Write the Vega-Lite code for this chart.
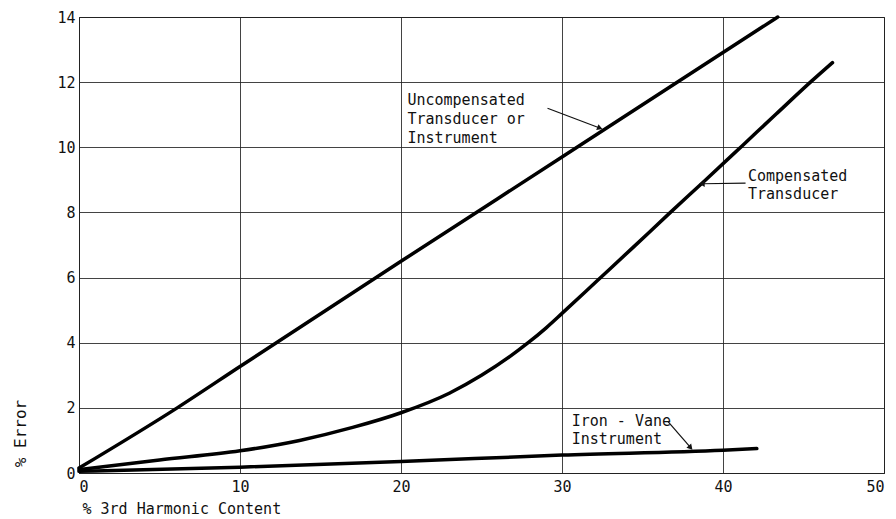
{
  "$schema": "https://vega.github.io/schema/vega-lite/v6.json",
  "width": 805,
  "height": 456,
  "autosize": "none",
  "padding": {"left": 79, "top": 17, "right": 12, "bottom": 46},
  "background": "white",
  "config": {
    "view": {"stroke": "#222", "strokeWidth": 1},
    "font": "DejaVu Sans Mono",
    "axis": {"grid": true, "gridColor": "#222", "gridOpacity": 0.85, "gridWidth": 1, "domainColor": "#222", "ticks": false, "labelColor": "#111", "titleColor": "#111", "labelFont": "DejaVu Sans Mono", "titleFont": "DejaVu Sans Mono", "titleFontWeight": "normal"}
  },
  "datasets": {
    "curves": [
      {"series": "Uncompensated", "x": 0, "y": 0.15},
      {"series": "Uncompensated", "x": 6.1, "y": 2.0},
      {"series": "Uncompensated", "x": 10, "y": 3.27},
      {"series": "Uncompensated", "x": 20, "y": 6.5},
      {"series": "Uncompensated", "x": 30, "y": 9.7},
      {"series": "Uncompensated", "x": 43.4, "y": 14},
      {"series": "Compensated", "x": 0, "y": 0.1},
      {"series": "Compensated", "x": 5, "y": 0.4},
      {"series": "Compensated", "x": 10, "y": 0.68},
      {"series": "Compensated", "x": 13.7, "y": 1.0},
      {"series": "Compensated", "x": 17, "y": 1.4},
      {"series": "Compensated", "x": 20, "y": 1.85},
      {"series": "Compensated", "x": 23, "y": 2.45},
      {"series": "Compensated", "x": 25, "y": 3.0},
      {"series": "Compensated", "x": 27.9, "y": 4.0},
      {"series": "Compensated", "x": 29, "y": 4.45},
      {"series": "Compensated", "x": 30, "y": 4.9},
      {"series": "Compensated", "x": 32.2, "y": 5.91},
      {"series": "Compensated", "x": 34.4, "y": 6.92},
      {"series": "Compensated", "x": 36.6, "y": 7.94},
      {"series": "Compensated", "x": 38.9, "y": 8.99},
      {"series": "Compensated", "x": 41.2, "y": 10.05},
      {"series": "Compensated", "x": 43.3, "y": 11.02},
      {"series": "Compensated", "x": 45.5, "y": 12.03},
      {"series": "Compensated", "x": 46.8, "y": 12.6},
      {"series": "Iron-Vane", "x": 0, "y": 0.05},
      {"series": "Iron-Vane", "x": 10, "y": 0.18},
      {"series": "Iron-Vane", "x": 20, "y": 0.35},
      {"series": "Iron-Vane", "x": 30, "y": 0.55},
      {"series": "Iron-Vane", "x": 40, "y": 0.7},
      {"series": "Iron-Vane", "x": 42.1, "y": 0.75}
    ],
    "labels": [
      {"x": 20.4, "y": 11.45, "text": "Uncompensated"},
      {"x": 20.4, "y": 10.87, "text": "Transducer or"},
      {"x": 20.4, "y": 10.29, "text": "Instrument"},
      {"x": 41.55, "y": 9.12, "text": "Compensated"},
      {"x": 41.55, "y": 8.58, "text": "Transducer"},
      {"x": 30.6, "y": 1.6, "text": "Iron - Vane"},
      {"x": 30.6, "y": 1.05, "text": "Instrument"}
    ],
    "arrows": [
      {"x": 29.1, "y": 11.2, "x2": 32.3, "y2": 10.6, "angle": 111},
      {"x": 41.4, "y": 8.9, "x2": 38.75, "y2": 8.88, "angle": 270},
      {"x": 36.6, "y": 1.57, "x2": 37.95, "y2": 0.8, "angle": 139}
    ]
  },
  "layer": [
    {
      "data": {"name": "curves"},
      "mark": {"type": "line", "color": "black", "strokeWidth": 3.5, "interpolate": "monotone", "strokeCap": "round"},
      "encoding": {
        "x": {"field": "x", "type": "quantitative", "scale": {"domain": [0, 50], "nice": false},
          "axis": {"values": [0, 10, 20, 30, 40, 50], "title": "% 3rd Harmonic Content", "labelFontSize": 15, "labelPadding": 6, "titleFontSize": 15, "titleAnchor": "start", "titleAlign": "left", "titleX": 3, "titleY": 35, "titleBaseline": "middle"}},
        "y": {"field": "y", "type": "quantitative", "scale": {"domain": [0, 14], "nice": false},
          "axis": {"values": [0, 2, 4, 6, 8, 10, 12, 14], "title": "% Error", "labelFontSize": 15, "labelPadding": 4, "titleFontSize": 16, "titleAngle": 270, "titleX": -59, "titleY": 416, "titleAlign": "center", "titleBaseline": "middle"}},
        "detail": {"field": "series"}
      }
    },
    {
      "data": {"name": "labels"},
      "mark": {"type": "text", "align": "left", "baseline": "middle", "fontSize": 15, "color": "#111"},
      "encoding": {
        "x": {"field": "x", "type": "quantitative"},
        "y": {"field": "y", "type": "quantitative"},
        "text": {"field": "text"}
      }
    },
    {
      "data": {"name": "arrows"},
      "mark": {"type": "rule", "color": "#111", "strokeWidth": 1.2},
      "encoding": {
        "x": {"field": "x", "type": "quantitative"},
        "y": {"field": "y", "type": "quantitative"},
        "x2": {"field": "x2"},
        "y2": {"field": "y2"}
      }
    },
    {
      "data": {"name": "arrows"},
      "mark": {"type": "point", "shape": "triangle", "filled": true, "color": "#111", "size": 40, "opacity": 1},
      "encoding": {
        "x": {"field": "x2", "type": "quantitative"},
        "y": {"field": "y2", "type": "quantitative"},
        "angle": {"field": "angle", "type": "quantitative", "scale": null}
      }
    }
  ]
}
